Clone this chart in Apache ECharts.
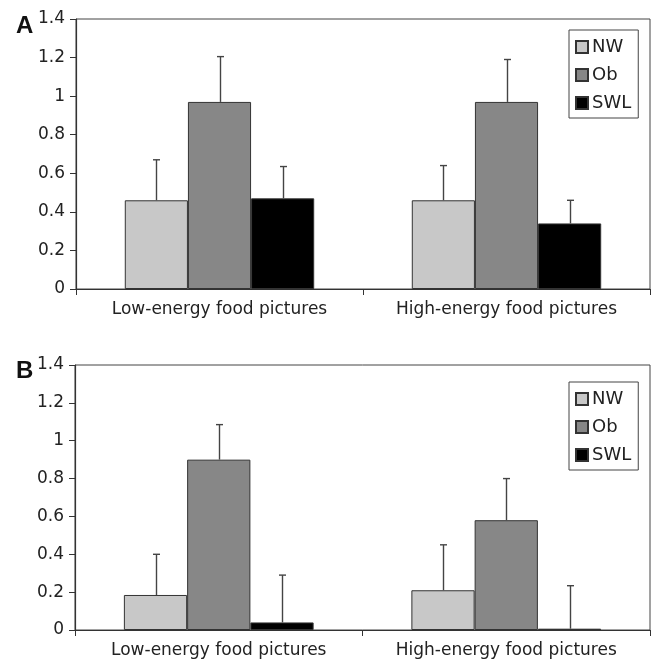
<!DOCTYPE html>
<html>
<head>
<meta charset="utf-8">
<script src="https://cdn.jsdelivr.net/npm/echarts@6/dist/echarts.min.js"></script>
<style>
html,body{margin:0;padding:0;background:#fff;}
#chart{width:657px;height:661px;}
</style>
</head>
<body>
<div id="chart"></div>
<script>
const categories = ['Low-energy food pictures', 'High-energy food pictures'];
const groups = ['NW', 'Ob', 'SWL'];
const yTicks = [0, 0.2, 0.4, 0.6, 0.8, 1, 1.2, 1.4];

// Panel A means and standard errors (Low, High)
const aNW = [0.46, 0.46];
const aOb = [0.97, 0.97];
const aSWL = [0.47, 0.34];
const aNWerr = [0.21, 0.18];
const aObErr = [0.235, 0.22];
const aSWLerr = [0.165, 0.12];

// Panel B means and standard errors (Low, High)
const bNW = [0.185, 0.21];
const bOb = [0.90, 0.58];
const bSWL = [0.04, 0.007];
const bNWerr = [0.215, 0.24];
const bObErr = [0.185, 0.22];
const bSWLerr = [0.25, 0.227];

const colors = ['#c8c8c8', '#878787', '#000000'];
const FONT = 'DejaVu Sans';
const BAR_FRAC = 0.22;

function errData(means, errs) {
  const out = [];
  means.forEach((m, k) => {
    m.forEach((v, c) => out.push([c, v, v + errs[k][c], k]));
  });
  return out;
}

function renderErr(params, api) {
  const c = api.value(0), v = api.value(1), hi = api.value(2), k = api.value(3);
  const band = api.size([1, 0])[0];
  const off = (k - 1) * band * BAR_FRAC;
  const p0 = api.coord([c, v]);
  const p1 = api.coord([c, hi]);
  const x = Math.round(p0[0] + off) + 0.5;
  const cap = 3.5;
  const st = { stroke: '#444', lineWidth: 1.4 };
  return {
    type: 'group',
    children: [
      { type: 'line', shape: { x1: x, y1: p0[1], x2: x, y2: p1[1] }, style: st },
      { type: 'line', shape: { x1: x - cap, y1: p1[1], x2: x + cap, y2: p1[1] }, style: st }
    ]
  };
}

function xAxis(gi) {
  return {
    type: 'category', gridIndex: gi, data: categories,
    axisLine: { lineStyle: { color: '#333', width: 1.2 } },
    axisTick: { show: true, length: 6, interval: 0, lineStyle: { color: '#333' } },
    axisLabel: { fontFamily: FONT, fontSize: 17, color: '#222', margin: 12, interval: 0, hideOverlap: false }
  };
}
function yAxis(gi) {
  return {
    type: 'value', gridIndex: gi, min: 0, max: 1.4, interval: 0.2,
    axisLine: { show: true, lineStyle: { color: '#333', width: 1.2 } },
    axisTick: { show: true, length: 6, lineStyle: { color: '#333' } },
    splitLine: { show: false },
    axisLabel: { fontFamily: FONT, fontSize: 17, color: '#222', margin: 11,
      formatter: v => String(yTicks.find(t => Math.abs(t - v) < 1e-6) ?? v) }
  };
}
function barSeries(name, data, gi, ci) {
  return {
    name: name, type: 'bar', xAxisIndex: gi, yAxisIndex: gi, data: data,
    barWidth: (BAR_FRAC * 100) + '%', barGap: '0%',
    itemStyle: { color: colors[ci], borderColor: '#333', borderWidth: 1 },
    z: 2
  };
}
function legend(top) {
  return {
    data: groups, orient: 'vertical', left: 569, top: top,
    padding: [8, 7, 6, 6], itemGap: 10,
    itemWidth: 12, itemHeight: 12, icon: 'rect',
    borderColor: '#444', borderWidth: 1,
    textStyle: { fontFamily: FONT, fontSize: 18, color: '#222', padding: [0, 0, 0, -1] },
    selectedMode: false
  };
}

const chart = echarts.init(document.getElementById('chart'), null, { renderer: 'canvas' });
chart.setOption({
  animation: false,
  backgroundColor: '#fff',
  title: [
    { text: 'A', left: 11, top: 9, textStyle: { fontFamily: 'Liberation Sans', fontWeight: 'bold', fontSize: 24, color: '#111' } },
    { text: 'B', left: 11, top: 354, textStyle: { fontFamily: 'Liberation Sans', fontWeight: 'bold', fontSize: 24, color: '#111' } }
  ],
  legend: [legend(30), legend(382)],
  grid: [
    { left: 76, top: 19, width: 574, height: 270, show: true, borderColor: '#444', borderWidth: 1 },
    { left: 75, top: 365, width: 575, height: 265, show: true, borderColor: '#444', borderWidth: 1 }
  ],
  xAxis: [xAxis(0), xAxis(1)],
  yAxis: [yAxis(0), yAxis(1)],
  series: [
    barSeries('NW', aNW, 0, 0),
    barSeries('Ob', aOb, 0, 1),
    barSeries('SWL', aSWL, 0, 2),
    barSeries('NW', bNW, 1, 0),
    barSeries('Ob', bOb, 1, 1),
    barSeries('SWL', bSWL, 1, 2),
    { type: 'custom', name: 'errA', xAxisIndex: 0, yAxisIndex: 0, z: 3,
      data: errData([aNW, aOb, aSWL], [aNWerr, aObErr, aSWLerr]),
      encode: { x: 0, y: [1, 2] }, renderItem: renderErr },
    { type: 'custom', name: 'errB', xAxisIndex: 1, yAxisIndex: 1, z: 3,
      data: errData([bNW, bOb, bSWL], [bNWerr, bObErr, bSWLerr]),
      encode: { x: 0, y: [1, 2] }, renderItem: renderErr }
  ]
});
</script>
</body>
</html>
